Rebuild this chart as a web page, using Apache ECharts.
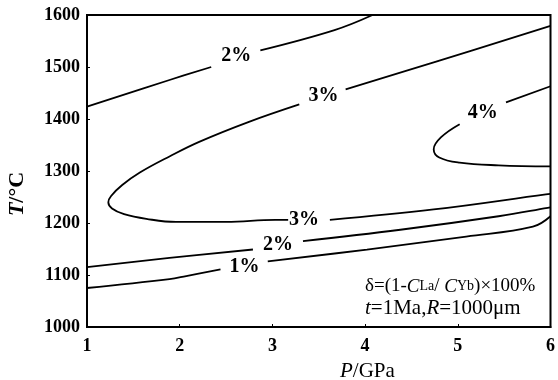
<!DOCTYPE html>
<html>
<head>
<meta charset="utf-8">
<script src="https://cdn.jsdelivr.net/npm/echarts@6/dist/echarts.min.js"></script>
<style>
  html, body { margin: 0; padding: 0; background: #fff; }
  #chart { width: 558px; height: 380px; }
</style>
</head>
<body>
<div id="chart"></div>
<script>
// Pressure (GPa) ticks and temperature (°C) ticks
const pTicks = [1, 2, 3, 4, 5, 6];
const tTicks = [1000, 1100, 1200, 1300, 1400, 1500, 1600];

// Contour lines of δ, each split where its label sits: [P, T] pairs
const c2UpperA = [[1.00, 1424], [1.89, 1475], [2.34, 1500]];
const c2UpperB = [[2.87, 1532], [3.67, 1571], [4.08, 1600]];

const c3UpperA = [[3.29, 1428], [2.74, 1394], [2.21, 1356], [1.89, 1328], [1.57, 1297],
                  [1.38, 1273], [1.26, 1252], [1.23, 1240], [1.27, 1228], [1.40, 1217],
                  [1.64, 1208], [1.96, 1202], [2.50, 1202], [3.03, 1206], [3.17, 1206]];
const c3UpperB = [[3.79, 1457], [4.74, 1509], [6.00, 1579]];
const c3Lower = [[3.62, 1206], [4.74, 1226], [5.95, 1255], [6.00, 1256]];

const c4A = [[5.52, 1432], [6.00, 1463]];
const c4B = [[5.02, 1390], [4.82, 1365], [4.74, 1342], [4.80, 1326], [5.02, 1316],
             [5.44, 1311], [6.00, 1309]];

const c2LowerA = [[1.00, 1115], [1.89, 1133], [2.79, 1149]];
const c2LowerB = [[3.33, 1165], [4.38, 1187], [5.44, 1213], [5.97, 1229], [6.00, 1230]];

const c1A = [[1.00, 1075], [1.89, 1092], [2.07, 1098], [2.44, 1111]];
const c1B = [[2.95, 1126], [4.02, 1149], [5.09, 1174], [5.81, 1193], [6.00, 1213]];

// Contour labels
const labelText = ['2%', '3%', '4%', '3%', '2%', '1%'];
const labelP = [2.61, 3.55, 5.27, 3.34, 3.06, 2.70];
const labelT = [1521, 1444, 1411, 1207, 1158, 1115];

const serif = '"Liberation Serif", "Times New Roman", serif';

const segments = [c2UpperA, c2UpperB, c3UpperA, c3UpperB, c3Lower, c4A, c4B,
                  c2LowerA, c2LowerB, c1A, c1B];

const lineSeries = segments.map(seg => ({
  type: 'line',
  data: seg,
  smooth: 0.4,
  showSymbol: false,
  silent: true,
  clip: true,
  lineStyle: { color: '#000', width: 1.8 }
}));

const labelSeries = {
  type: 'scatter',
  symbolSize: 0,
  silent: true,
  itemStyle: { color: '#000', opacity: 1 },
  data: labelText.map((t, i) => ({ name: t, value: [labelP[i], labelT[i]] })),
  label: {
    show: true,
    position: [0, 0],
    align: 'center',
    verticalAlign: 'middle',
    formatter: p => p.name,
    fontFamily: serif,
    fontSize: 20,
    fontWeight: 'bold',
    color: '#000',
    textBorderWidth: 0
  }
};

const chart = echarts.init(document.getElementById('chart'), null, { renderer: 'canvas' });
chart.setOption({
  backgroundColor: '#fff',
  animation: false,
  grid: {
    left: 87, right: 3, top: 15, bottom: 53,
    show: true, borderColor: '#000', borderWidth: 2
  },
  xAxis: {
    type: 'value',
    min: pTicks[0], max: pTicks[pTicks.length - 1], interval: 1,
    axisLine: { show: true, onZero: false, lineStyle: { color: '#000', width: 2 } },
    axisTick: { show: true, inside: true, length: 3, lineStyle: { color: '#000' } },
    splitLine: { show: false },
    axisLabel: {
      margin: 10, color: '#000', fontFamily: serif, fontSize: 18, fontWeight: 'bold',
      formatter: v => String(v)
    }
  },
  yAxis: {
    type: 'value',
    min: tTicks[0], max: tTicks[tTicks.length - 1], interval: 100,
    axisLine: { show: true, onZero: false, lineStyle: { color: '#000', width: 2 } },
    axisTick: { show: true, inside: true, length: 3, lineStyle: { color: '#000' } },
    splitLine: { show: false },
    axisLabel: {
      margin: 7, color: '#000', fontFamily: serif, fontSize: 18, fontWeight: 'bold',
      formatter: v => String(v)
    }
  },
  graphic: [
    {
      type: 'text', left: 340, top: 361,
      style: {
        text: '{i|P}{n|/GPa}',
        rich: {
          i: { fontFamily: serif, fontSize: 21, fontStyle: 'italic', fill: '#000' },
          n: { fontFamily: serif, fontSize: 21, fill: '#000' }
        }
      }
    },
    {
      type: 'text', x: 17, y: 194, rotation: Math.PI / 2,
      style: {
        text: '{i|T}{n|/°C}',
        align: 'center', verticalAlign: 'middle',
        rich: {
          i: { fontFamily: serif, fontSize: 22, fontStyle: 'italic', fontWeight: 'bold', fill: '#000' },
          n: { fontFamily: serif, fontSize: 22, fontWeight: 'bold', fill: '#000' }
        }
      }
    },
    {
      type: 'text', left: 365, top: 277,
      style: {
        text: '{n|δ=(1-}{i|C}{s|La}{n|/ }{i|C}{s|Yb}{n|)×100%}',
        rich: {
          n: { fontFamily: serif, fontSize: 19, fill: '#000' },
          i: { fontFamily: serif, fontSize: 19, fontStyle: 'italic', fill: '#000' },
          s: { fontFamily: serif, fontSize: 14, fill: '#000' }
        }
      }
    },
    {
      type: 'text', left: 365, top: 298,
      style: {
        text: '{i|t}{n|=1Ma,}{i|R}{n|=1000μm}',
        rich: {
          n: { fontFamily: serif, fontSize: 21, fill: '#000' },
          i: { fontFamily: serif, fontSize: 21, fontStyle: 'italic', fill: '#000' }
        }
      }
    }
  ],
  series: [...lineSeries, labelSeries]
});
</script>
</body>
</html>
